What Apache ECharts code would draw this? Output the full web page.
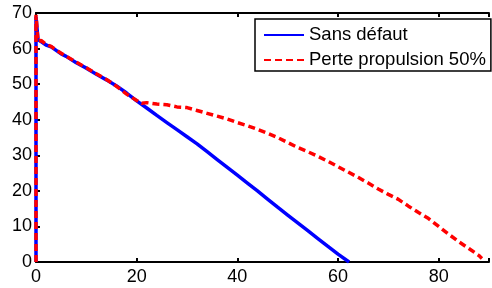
<!DOCTYPE html>
<html>
<head>
<meta charset="utf-8">
<script src="https://cdn.jsdelivr.net/npm/echarts@6/dist/echarts.min.js"></script>
<style>
  html, body { margin: 0; padding: 0; background: #fff; }
  #chart { width: 492px; height: 288px; }
</style>
</head>
<body>
<div id="chart"></div>
<script>
// values
const xTicks = [0, 20, 40, 60, 80];
const yTicks = [0, 10, 20, 30, 40, 50, 60, 70];
const seriesNames = ['Sans défaut', 'Perte propulsion 50%'];

const sansDefaut = [
  [0, 0], [0, 69], [0.4, 62.5], [1, 62], [2, 61], [3, 60.5], [4, 59.5],
  [5, 58.5], [6, 57.8], [8, 56], [10, 54.5], [12, 52.8], [14, 51.2],
  [16, 49.5], [18, 47.5], [20, 45.3], [22, 43.3], [24, 41.2], [26, 39.2],
  [28, 37.2], [30, 35.2], [32, 33.2], [34, 31], [36, 28.8], [38, 26.6],
  [40, 24.4], [42, 22.2], [44, 20], [46, 17.7], [48, 15.4], [50, 13.2],
  [52, 11], [54, 8.8], [56, 6.6], [58, 4.4], [60, 2.2], [62.2, 0]
];

const pertePropulsion = [
  [0, 0], [0, 69.5], [0.4, 62], [1, 62.3], [2, 61.2], [3, 60.6], [4, 59.6],
  [5, 58.7], [6, 57.8], [8, 56.2], [10, 54.6], [12, 52.9], [14, 51.3],
  [16, 49.4], [18, 47.2], [20, 45.4], [21, 44.6], [22, 44.8], [24, 44.4],
  [26, 44.2], [28, 43.6], [30, 43.4], [32, 42.6], [34, 41.8], [36, 41],
  [38, 40.2], [40, 39.2], [42, 38.3], [44, 37.3], [46, 36.2], [48, 35],
  [50, 33.6], [52, 32.2], [54, 31], [56, 29.7], [58, 28.3], [60, 26.8],
  [62, 25.3], [64, 23.8], [66, 22.2], [68, 20.5], [70, 19], [72, 17.6],
  [74, 15.7], [76, 13.9], [78, 12.2], [80, 10], [82, 7.8], [84, 5.7],
  [86, 3.8], [88, 1.8], [88.6, 1]
];

const chart = echarts.init(document.getElementById('chart'));

const font = 'Liberation Sans, Arial, sans-serif';
const axisLine = { show: true, lineStyle: { color: '#000', width: 2 } };
const axisTick = { show: true, inside: true, length: 4, lineStyle: { color: '#000', width: 2 } };

chart.setOption({
  animation: false,
  backgroundColor: '#fff',
  grid: { left: 36, top: 13, right: -5, bottom: 26 },
  legend: {
    data: seriesNames,
    orient: 'vertical',
    left: 255,
    top: 19,
    padding: [5, 5, 0, 8],
    itemGap: 3,
    itemWidth: 40,
    itemHeight: 14,
    borderColor: '#000',
    borderWidth: 1.5,
    borderRadius: 0,
    backgroundColor: '#fff',
    itemStyle: { opacity: 0 },
    textStyle: { color: '#000', fontFamily: font, fontSize: 18.5, lineHeight: 22 }
  },
  xAxis: [{
    type: 'value',
    min: 0,
    max: 90,
    interval: 20,
    position: 'bottom',
    axisLine: axisLine,
    axisTick: axisTick,
    splitLine: { show: false },
    axisLabel: {
      color: '#000', fontFamily: font, fontSize: 18, margin: 6,
      formatter: v => xTicks.includes(v) ? String(v) : ''
    }
  }, {
    type: 'value',
    min: 0,
    max: 90,
    interval: 20,
    position: 'top',
    axisLine: axisLine,
    axisTick: axisTick,
    splitLine: { show: false },
    axisLabel: { show: false }
  }],
  yAxis: {
    type: 'value',
    min: 0,
    max: 70,
    interval: 10,
    axisLine: axisLine,
    axisTick: axisTick,
    splitLine: { show: false },
    axisLabel: {
      color: '#000', fontFamily: font, fontSize: 18, margin: 4,
      formatter: v => yTicks.includes(v) ? String(v) : ''
    }
  },
  series: [{
    name: seriesNames[0],
    type: 'line',
    data: sansDefaut,
    showSymbol: false,
    symbol: 'none',
    color: '#0000ff',
    lineStyle: { color: '#0000ff', width: 3.5 },
    z: 2
  }, {
    name: seriesNames[1],
    type: 'line',
    data: pertePropulsion,
    showSymbol: false,
    symbol: 'none',
    color: '#ff0000',
    lineStyle: { color: '#ff0000', width: 3.5, type: [7, 4] },
    z: 3
  }]
});
</script>
</body>
</html>
